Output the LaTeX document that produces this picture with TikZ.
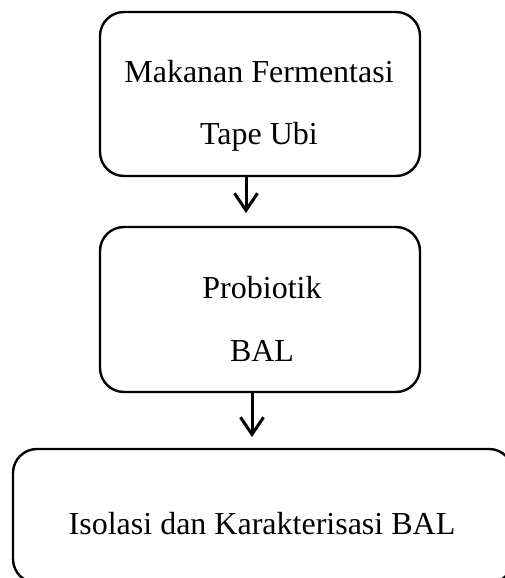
\documentclass[tikz,border=0pt]{standalone}
\usepackage{fontspec}
\setmainfont{Liberation Serif}
\usetikzlibrary{arrows.meta}
\begin{document}
\begin{tikzpicture}[x=1pt,y=1pt,
  box/.style={draw=black, line width=2.4pt, rounded corners=24pt, inner sep=0pt},
  lbl/.style={anchor=base, inner sep=0pt, font=\fontsize{32}{38}\selectfont},
  conn/.style={line width=3pt, -{Straight Barb[length=17pt,width=23pt,line width=3pt]}}]
\useasboundingbox (0,0) rectangle (505,578);
\clip (0,0) rectangle (505,578);
% boxes
\node[box, minimum width=320pt, minimum height=164pt] (b1) at (260,484) {};
\node[box, minimum width=320pt, minimum height=165pt] (b2) at (260,268.5) {};
\node[box, minimum width=500pt, minimum height=134pt] (b3) at (263,62) {};
% texts
\node[lbl] (t1a) at (259,495) {Makanan Fermentasi};
\node[lbl] (t1b) at (259,433) {Tape Ubi};
\node[lbl] (t2a) at (262,279) {Probiotik};
\node[lbl] (t2b) at (262,216) {BAL};
\node[lbl] (t3) at (262,43) {Isolasi dan Karakterisasi BAL};
% connectors
\coordinate (a1s) at (246,402);
\coordinate (a1e) at (246,365);
\coordinate (a2s) at (252,186);
\coordinate (a2e) at (252,141);
\draw[conn] (a1s) -- (a1e);
\draw[conn] (a2s) -- (a2e);
\end{tikzpicture}
\end{document}
